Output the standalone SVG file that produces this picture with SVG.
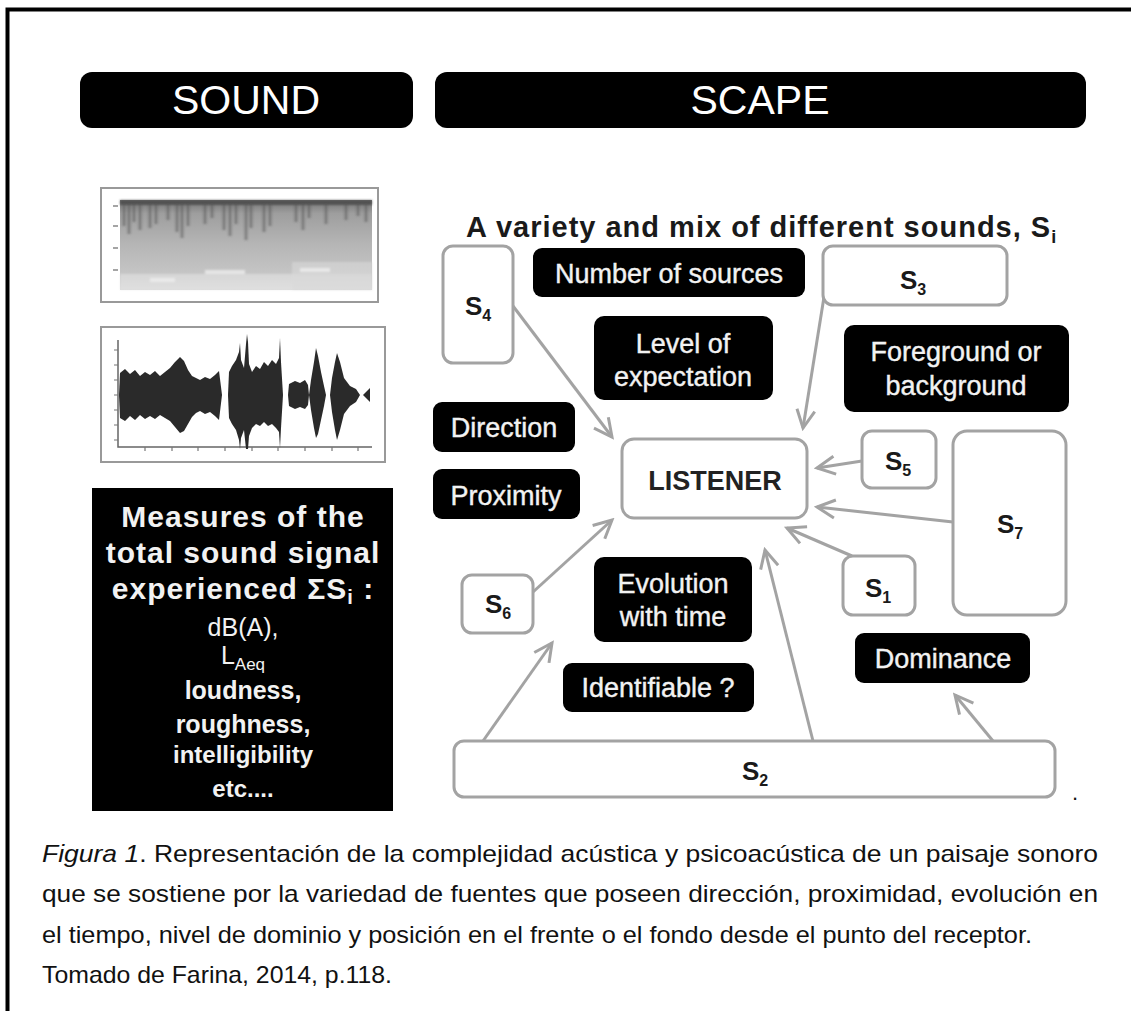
<svg xmlns="http://www.w3.org/2000/svg" width="1131" height="1011" viewBox="0 0 1131 1011">
<style>
.hdr{fill:#000}
.hdrtxt{font-family:"Liberation Sans",Arial,sans-serif;font-size:41px;fill:#fff;text-anchor:middle}
.blk{fill:#000}
.btxt{font-family:"Liberation Sans",Arial,sans-serif;font-size:27px;fill:#f2f2f2;stroke:#f2f2f2;stroke-width:0.4;text-anchor:middle}
.src{fill:#fff;stroke:#a3a3a3;stroke-width:3}
.stxt{font-family:"Liberation Sans",Arial,sans-serif;font-weight:bold;font-size:26px;fill:#1a1a1a}
.sub{font-size:16px}
.conn path{stroke:#a3a3a3;stroke-width:3;fill:none;marker-end:url(#arr)}
.mtxt{font-family:"Liberation Sans",Arial,sans-serif;fill:#f2f2f2;text-anchor:middle}
.cap{font-family:"Liberation Sans Narrow","Liberation Sans",Arial,sans-serif;font-size:24px;fill:#111}
.wave{fill:#2a2a2a}
.st{stroke:#555;opacity:0.5}
</style>
<defs>
<marker id="arr" markerUnits="userSpaceOnUse" markerWidth="24" markerHeight="24" viewBox="0 0 24 24" refX="21" refY="12" orient="auto">
<path d="M3,3 L21,12 L3,21" fill="none" stroke="#a3a3a3" stroke-width="3"/>
</marker>
<linearGradient id="specGrad" x1="0" y1="0" x2="0" y2="1">
<stop offset="0" stop-color="#747474"/>
<stop offset="0.15" stop-color="#9e9e9e"/>
<stop offset="0.5" stop-color="#b6b6b6"/>
<stop offset="0.8" stop-color="#c4c4c4"/>
<stop offset="1" stop-color="#dadada"/>
</linearGradient>
<filter id="soft" x="-5%" y="-5%" width="110%" height="110%"><feGaussianBlur stdDeviation="1.3"/></filter>
<filter id="soft2" x="-5%" y="-5%" width="110%" height="110%"><feGaussianBlur stdDeviation="0.6"/></filter>
</defs>
<rect width="1131" height="1011" fill="#fff"/>
<path d="M7.5,1011 V9.5 H1131" fill="none" stroke="#000" stroke-width="4"/>

<g id="header-sound"><rect class="hdr" x="80" y="72" width="333" height="56" rx="12"/><text class="hdrtxt" x="246" y="114">SOUND</text></g>
<g id="header-scape"><rect class="hdr" x="435" y="72" width="651" height="56" rx="12"/><text class="hdrtxt" x="760" y="114">SCAPE</text></g>

<g id="spectrogram">
<rect x="101" y="188" width="277" height="114" fill="#fff" stroke="#999" stroke-width="2"/>
<rect x="120" y="200" width="252" height="90" fill="url(#specGrad)"/>
<g filter="url(#soft)">
<rect x="120" y="200" width="252" height="5" fill="#444" opacity="0.75"/>
<path class="st" stroke-width="3" d="M124,204 v22 M129,204 v30 M134,204 v18 M140,204 v26 M150,204 v24 M156,204 v20 M168,204 v16 M177,204 v28 M182,204 v34 M188,204 v22 M205,204 v20 M212,204 v14 M224,204 v26 M230,204 v32 M236,204 v20 M246,204 v36 M251,204 v24 M264,204 v28 M270,204 v22 M296,204 v18 M303,204 v26 M309,204 v14 M326,204 v20 M346,204 v16 M358,204 v12 M366,204 v18"/>
<rect x="120" y="274" width="252" height="16" fill="#e4e4e4" opacity="0.55"/>
<rect x="292" y="262" width="80" height="28" fill="#d8d8d8" opacity="0.6"/>
<path d="M205,272 h40 M300,270 h30 M150,280 h25" stroke="#eee" stroke-width="4" opacity="0.8"/>
</g>
<path d="M113,206 H118 M113,226 H118 M113,248 H118 M113,270 H118" stroke="#888" stroke-width="1.5"/>
</g>

<g id="waveform">
<rect x="101" y="327" width="284" height="135" fill="#fff" stroke="#999" stroke-width="2"/>
<path d="M118,340 V447 H372" fill="none" stroke="#666" stroke-width="1.5"/>
<path d="M114,350 H118 M114,365 H118 M114,380 H118 M114,395 H118 M114,410 H118 M114,425 H118 M114,440 H118 M145,447 V451 M172,447 V451 M198,447 V451 M225,447 V451 M252,447 V451 M278,447 V451 M305,447 V451 M332,447 V451 M358,447 V451" stroke="#777" stroke-width="1.2"/>
<g filter="url(#soft2)">
<path class="wave" d="M119,395 L120,373 L125,369 L130,374 L135,370 L140,376 L145,372 L150,375 L155,371 L160,376 L165,372 L170,368 L175,362 L180,357 L184,361 L188,370 L192,376 L196,378 L200,380 L205,377 L210,379 L215,375 L219,371 L222,395 L219,420 L215,416 L210,412 L205,414 L200,411 L196,413 L192,417 L188,424 L184,431 L180,433 L175,427 L170,421 L165,418 L160,415 L155,419 L150,416 L145,419 L140,415 L135,420 L130,416 L125,421 L120,418 Z"/>
<path class="wave" d="M228,395 L229,372 L232,366 L236,360 L239,352 L240,343 L241,360 L244,368 L246,344 L247,334 L248,342 L249,364 L252,372 L256,366 L260,369 L264,362 L268,366 L272,360 L276,364 L279,358 L280,338 L281,362 L283,395 L281,428 L280,448 L279,432 L276,428 L272,424 L268,426 L264,422 L260,426 L256,424 L252,428 L249,436 L248,449 L246,449 L244,430 L241,438 L240,449 L239,440 L236,430 L232,424 L229,418 Z"/>
<path class="wave" d="M288,395 L289,384 L295,381 L300,383 L305,380 L308,385 L309,395 L308,405 L305,409 L300,407 L295,409 L289,406 Z"/>
<path class="wave" d="M309,395 L311,380 L314,362 L316,348 L318,356 L321,372 L324,386 L326,395 L324,406 L321,420 L318,434 L316,438 L314,428 L311,410 Z"/>
<path class="wave" d="M330,395 L332,378 L335,362 L337,353 L340,362 L344,378 L350,386 L356,389 L360,395 L356,402 L350,406 L344,414 L340,430 L337,440 L335,430 L332,412 Z"/>
<path class="wave" d="M363,395 L370,388 L370,402 Z"/>
</g>
</g>

<g id="measures">
<rect class="blk" x="92" y="488" width="301" height="323"/>
<text class="mtxt" x="243" y="527" font-size="30" font-weight="bold" letter-spacing="1">Measures of the</text>
<text class="mtxt" x="243" y="563" font-size="30" font-weight="bold" letter-spacing="1">total sound signal</text>
<text class="mtxt" x="243" y="599" font-size="30" font-weight="bold" letter-spacing="1">experienced ΣS<tspan font-size="20" dy="5">i</tspan><tspan dy="-5"> :</tspan></text>
<text class="mtxt" x="243" y="636" font-size="25">dB(A),</text>
<text class="mtxt" x="243" y="664" font-size="25">L<tspan font-size="17" dy="6">Aeq</tspan></text>
<text class="mtxt" x="243" y="699" font-size="25" font-weight="bold">loudness,</text>
<text class="mtxt" x="243" y="733" font-size="25" font-weight="bold">roughness,</text>
<text class="mtxt" x="243" y="763" font-size="24" font-weight="bold">intelligibility</text>
<text class="mtxt" x="243" y="797" font-size="24" font-weight="bold">etc....</text>
</g>

<text id="title" x="466" y="237" font-family="'Liberation Sans',Arial,sans-serif" font-size="29" font-weight="bold" letter-spacing="1" fill="#1a1a1a">A variety and mix of different sounds, S<tspan font-size="18" dy="6">i</tspan></text>

<g class="conn" id="connectors">
<path d="M513,306 L612,437"/>
<path d="M824,297 L803,428"/>
<path d="M862,461 L817,468"/>
<path d="M953,522 L817,507"/>
<path d="M852,556 L787,528"/>
<path d="M533,592 L612,520"/>
<path d="M483,741 L552,643"/>
<path d="M813,741 L765,550"/>
<path d="M993,741 L955,695"/>
</g>

<g id="n-sources"><rect class="blk" x="533" y="248" width="272" height="49" rx="9"/><text class="btxt" x="669" y="283">Number of sources</text></g>
<g id="n-expectation"><rect class="blk" x="594" y="316" width="179" height="84" rx="10"/><text class="btxt" x="683" y="353">Level of</text><text class="btxt" x="683" y="386">expectation</text></g>
<g id="n-direction"><rect class="blk" x="433" y="402" width="142" height="50" rx="9"/><text class="btxt" x="504" y="437">Direction</text></g>
<g id="n-proximity"><rect class="blk" x="433" y="469" width="147" height="50" rx="9"/><text class="btxt" x="506" y="505">Proximity</text></g>
<g id="n-foreground"><rect class="blk" x="844" y="325" width="225" height="87" rx="10"/><text class="btxt" x="956" y="361">Foreground or</text><text class="btxt" x="956" y="395">background</text></g>
<g id="n-evolution"><rect class="blk" x="594" y="557" width="158" height="85" rx="10"/><text class="btxt" x="673" y="593">Evolution</text><text class="btxt" x="673" y="626">with time</text></g>
<g id="n-identifiable"><rect class="blk" x="563" y="663" width="191" height="49" rx="9"/><text class="btxt" x="658" y="697">Identifiable ?</text></g>
<g id="n-dominance"><rect class="blk" x="855" y="633" width="175" height="50" rx="9"/><text class="btxt" x="943" y="668">Dominance</text></g>

<g id="n-listener"><rect class="src" x="622" y="439" width="185" height="79" rx="12"/><text x="715" y="490" font-family="'Liberation Sans',Arial,sans-serif" font-size="27" font-weight="bold" fill="#222" text-anchor="middle">LISTENER</text></g>
<g id="n-s4"><rect class="src" x="443" y="246" width="70" height="117" rx="10"/><text class="stxt" x="465" y="315">S<tspan class="sub" dy="6">4</tspan></text></g>
<g id="n-s3"><rect class="src" x="823" y="246" width="184" height="59" rx="10"/><text class="stxt" x="900" y="289">S<tspan class="sub" dy="6">3</tspan></text></g>
<g id="n-s5"><rect class="src" x="862" y="431" width="74" height="57" rx="10"/><text class="stxt" x="885" y="470">S<tspan class="sub" dy="6">5</tspan></text></g>
<g id="n-s7"><rect class="src" x="953" y="431" width="113" height="184" rx="14"/><text class="stxt" x="997" y="533">S<tspan class="sub" dy="6">7</tspan></text></g>
<g id="n-s1"><rect class="src" x="843" y="556" width="72" height="59" rx="10"/><text class="stxt" x="865" y="597">S<tspan class="sub" dy="6">1</tspan></text></g>
<g id="n-s6"><rect class="src" x="462" y="575" width="71" height="58" rx="10"/><text class="stxt" x="485" y="613">S<tspan class="sub" dy="6">6</tspan></text></g>
<g id="n-s2"><rect class="src" x="454" y="741" width="601" height="56" rx="10"/><text class="stxt" x="742" y="780">S<tspan class="sub" dy="6">2</tspan></text></g>

<text x="1072" y="800" font-family="'Liberation Sans',Arial,sans-serif" font-size="22" fill="#111">.</text>

<g id="caption">
<text class="cap" x="42" y="862" textLength="1056" lengthAdjust="spacingAndGlyphs"><tspan font-style="italic">Figura 1</tspan>. Representación de la complejidad acústica y psicoacústica de un paisaje sonoro</text>
<text class="cap" x="42" y="902" textLength="1056" lengthAdjust="spacingAndGlyphs">que se sostiene por la variedad de fuentes que poseen dirección, proximidad, evolución en</text>
<text class="cap" x="42" y="943" textLength="990" lengthAdjust="spacingAndGlyphs">el tiempo, nivel de dominio y posición en el frente o el fondo desde el punto del receptor.</text>
<text class="cap" x="42" y="983" textLength="350" lengthAdjust="spacingAndGlyphs">Tomado de Farina, 2014, p.118.</text>
</g>
</svg>
